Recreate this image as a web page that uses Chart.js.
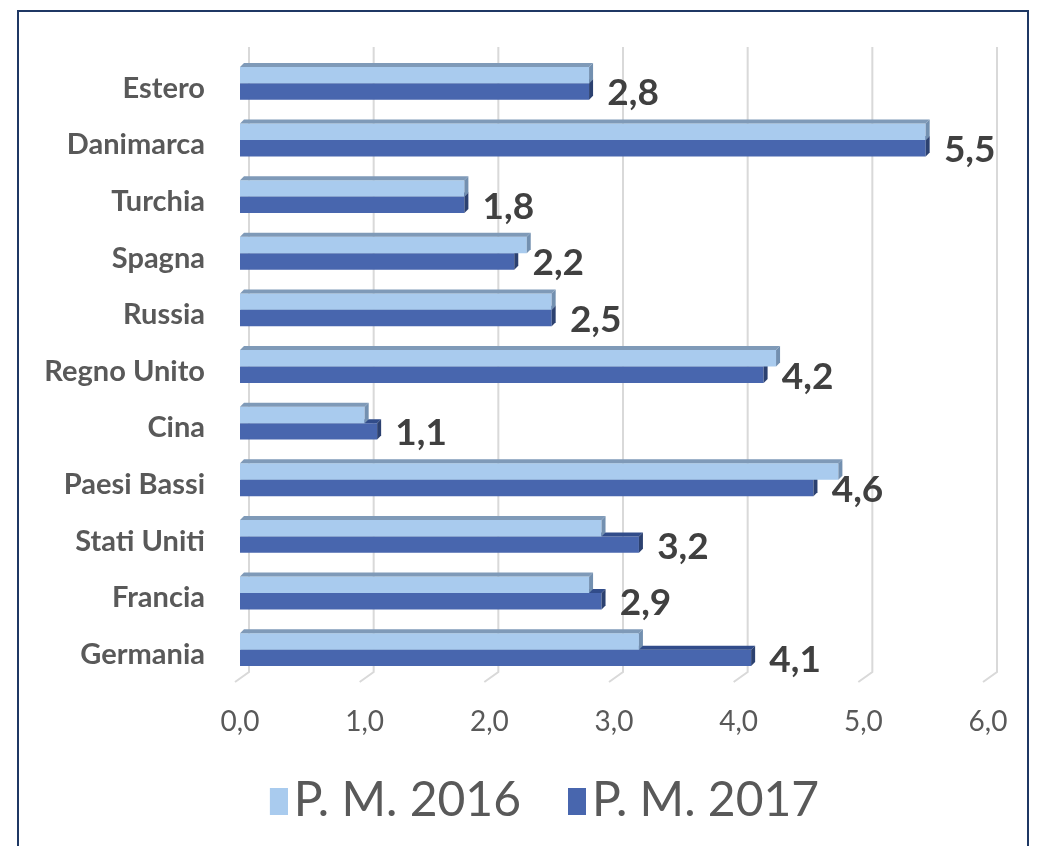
<!DOCTYPE html>
<html>
<head>
<meta charset="utf-8">
<script src="https://cdn.jsdelivr.net/npm/chart.js@4"></script>
<style>
  html, body { margin: 0; padding: 0; background: #fff; overflow: hidden; }
  #wrap { position: relative; width: 1038px; height: 846px; }
  #frame { position: absolute; left: 17px; top: 10px; width: 1012px; height: 900px; border: 2px solid #1f3864; box-sizing: border-box; }
  canvas { position: absolute; left: 0; top: 0; }
</style>
</head>
<body>
<div id="wrap">
  <div id="frame"></div>
  <canvas id="chart" width="1038" height="846"></canvas>
</div>
<script>
const countries = ['Estero', 'Danimarca', 'Turchia', 'Spagna', 'Russia', 'Regno Unito', 'Cina', 'Paesi Bassi', 'Stati Uniti', 'Francia', 'Germania'];
const pm2016 = [2.8, 5.5, 1.8, 2.3, 2.5, 4.3, 1.0, 4.8, 2.9, 2.8, 3.2];
const pm2017 = [2.8, 5.5, 1.8, 2.2, 2.5, 4.2, 1.1, 4.6, 3.2, 2.9, 4.1];
const xTicks = [0, 1, 2, 3, 4, 5, 6];

const colors = ['#a9cbee', '#4866ae'];
const fmt = v => v.toFixed(1).replace('.', ',');

// legend swatch: rectangle sitting on the right of a wider transparent image,
// so the gap to the text is small like in Excel
function swatch(color) {
  const c = document.createElement('canvas');
  c.width = 53; c.height = 27;
  const g = c.getContext('2d');
  g.fillStyle = color;
  g.fillRect(35, 0, 18, 27);
  return c;
}
const swatches = colors.map(swatch);

// faux 3D: back-wall gridlines + floor
const wallGrid = {
  id: 'wallGrid',
  beforeDatasetsDraw(chart) {
    const ctx = chart.ctx, x = chart.scales.x, area = chart.chartArea;
    ctx.save();
    ctx.strokeStyle = '#d9d9d9';
    ctx.lineWidth = 2;
    xTicks.forEach(v => {
      const px = x.getPixelForValue(v) + 9;
      ctx.beginPath();
      ctx.moveTo(px, area.top - 8);
      ctx.lineTo(px, area.bottom - 6);
      ctx.lineTo(px - 14, area.bottom + 4);
      ctx.stroke();
    });
    ctx.restore();
  }
};

// top and right faces of each bar
const sideColors = [
  { top: '#7f9ab8', side: '#7390b0' },
  { top: '#314c8a', side: '#2c4170' }
];
const bevel = {
  id: 'bevel',
  afterDatasetDraw(chart, args) {
    const ctx = chart.ctx, dx = 4, dy = 4;
    const c = sideColors[args.index];
    args.meta.data.forEach(bar => {
      const p = bar.getProps(['x', 'y', 'base', 'height'], true);
      const top = p.y - p.height / 2, bot = p.y + p.height / 2;
      ctx.save();
      ctx.fillStyle = c.top;
      ctx.beginPath();
      ctx.moveTo(p.base, top);
      ctx.lineTo(p.base + dx, top - dy);
      ctx.lineTo(p.x + dx, top - dy);
      ctx.lineTo(p.x, top);
      ctx.closePath();
      ctx.fill();
      ctx.fillStyle = c.side;
      ctx.beginPath();
      ctx.moveTo(p.x, top);
      ctx.lineTo(p.x + dx, top - dy);
      ctx.lineTo(p.x + dx, bot - dy);
      ctx.lineTo(p.x, bot);
      ctx.closePath();
      ctx.fill();
      ctx.restore();
    });
  }
};

// value labels for P. M. 2017
const valueLabels = {
  id: 'valueLabels',
  afterDatasetsDraw(chart) {
    const ctx = chart.ctx;
    const meta = chart.getDatasetMeta(1);
    ctx.save();
    ctx.font = 'bold 37px Lato';
    ctx.fillStyle = '#404040';
    ctx.textAlign = 'center';
    ctx.textBaseline = 'middle';
    meta.data.forEach((bar, i) => {
      ctx.fillText(fmt(pm2017[i]), bar.x + 44, bar.y + 2);
    });
    ctx.restore();
  }
};

// the Excel legend sits a little right of the canvas centre
const legendShift = {
  id: 'legendShift',
  afterLayout(chart) {
    chart.legend.left += 42;
    chart.legend.right += 42;
  }
};

new Chart(document.getElementById('chart'), {
  type: 'bar',
  data: {
    labels: countries,
    datasets: [
      { label: 'P. M. 2016', data: pm2016, backgroundColor: colors[0], borderWidth: 0 },
      { label: 'P. M. 2017', data: pm2017, backgroundColor: colors[1], borderWidth: 0 }
    ]
  },
  options: {
    indexAxis: 'y',
    responsive: false,
    animation: false,
    categoryPercentage: 0.58,
    barPercentage: 1.0,
    layout: { padding: { left: 0, right: 50, top: 55, bottom: 11 } },
    scales: {
      x: {
        min: 0, max: 6,
        afterBuildTicks: s => { s.ticks = xTicks.map(v => ({ value: v })); },
        grid: { display: false, drawTicks: false },
        border: { display: false },
        ticks: { padding: 27, color: '#595959', font: { family: 'Lato', size: 28 }, callback: v => fmt(v) },
        afterFit: s => { s.height = 69; }
      },
      y: {
        grid: { display: false, drawTicks: false },
        border: { display: false },
        ticks: { padding: 35, labelOffset: 5, color: '#595959', font: { family: 'Lato', size: 29, weight: 'bold' } },
        afterFit: s => { s.width = 240; }
      }
    },
    plugins: {
      legend: {
        position: 'bottom',
        labels: {
          usePointStyle: true,
          pointStyleWidth: 17,
          boxHeight: 27,
          padding: 30,
          color: '#595959',
          font: { family: 'Lato', size: 48 },
          generateLabels: chart => Chart.defaults.plugins.legend.labels.generateLabels(chart)
            .map((item, i) => ({ ...item, pointStyle: swatches[i] }))
        }
      },
      tooltip: { enabled: false }
    }
  },
  plugins: [wallGrid, bevel, valueLabels, legendShift]
});
</script>
</body>
</html>
